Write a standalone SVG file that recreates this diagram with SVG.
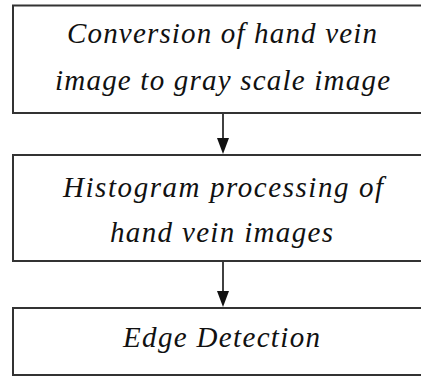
<svg xmlns="http://www.w3.org/2000/svg" width="421" height="376" viewBox="0 0 421 376">
<style>
.box{fill:#fff;stroke:#333;stroke-width:2}
.t{font-family:"Liberation Serif",serif;font-style:italic;font-size:29px;fill:#111;text-anchor:middle}
.c{stroke:#111;stroke-width:1.6;fill:none}
.ah{fill:#111}
</style>
<rect width="421" height="376" fill="#fff"/>
<g id="n1"><rect class="box" x="13" y="5.5" width="420" height="107.5"/>
<text class="t" x="222" y="43" textLength="310">Conversion of hand vein</text>
<text class="t" x="222.5" y="90" textLength="335">image to gray scale image</text></g>
<g id="n2"><rect class="box" x="13" y="155" width="420" height="106"/>
<text class="t" x="223" y="197" textLength="320">Histogram processing of</text>
<text class="t" x="221.5" y="242" textLength="223">hand vein images</text></g>
<g id="n3"><rect class="box" x="13" y="308" width="420" height="67"/>
<text class="t" x="221.5" y="347" textLength="197">Edge Detection</text></g>
<g id="connectors">
<line class="c" x1="223" y1="114" x2="223" y2="140"/>
<path class="ah" d="M217,138 L229,138 L223,154 Z"/>
<line class="c" x1="223" y1="262" x2="223" y2="293"/>
<path class="ah" d="M217,291 L229,291 L223,307 Z"/>
</g>
</svg>
